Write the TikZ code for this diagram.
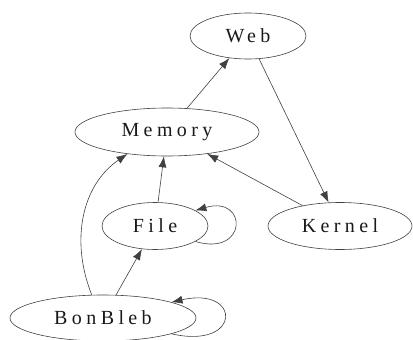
\documentclass[tikz,border=0pt]{standalone}
\usepackage{fontspec}
\usetikzlibrary{shapes.geometric, arrows.meta}
\newfontfamily\graphfont[LetterSpace=22]{Liberation Serif}
\tikzset{
  depgraph/.style={
	x=1pt, y=-1pt, % one unit per pixel, y downwards
	every node/.style={ellipse, draw=black!75, line width=0.6pt, inner sep=0pt,
	  font=\graphfont\fontsize{20}{24}\selectfont, text=black!90},
  },
  dep/.style={draw=black!75, line width=0.6pt, -{Latex[length=11pt, width=8pt]}},
}
\begin{document}
\begin{tikzpicture}[depgraph]
\useasboundingbox (0,0) rectangle (413,340);
\node[minimum width=116pt, minimum height=46pt] (web) at (248,36) {Web};
\node[minimum width=184pt, minimum height=48pt] (memory) at (167,132) {Memory};
\node[minimum width=106pt, minimum height=47pt] (file) at (155,226) {File};
\node[minimum width=144pt, minimum height=47pt] (kernel) at (340,226) {Kernel};
\node[minimum width=186pt, minimum height=46pt] (bonbleb) at (103,318) {BonBleb};

\draw[dep] (memory) -- (web);
\draw[dep] (web) -- (kernel);
\draw[dep] (kernel) -- (memory);
\draw[dep] (file) -- (memory);
\draw[dep] (bonbleb) -- (file);
\draw[dep] (bonbleb.116) .. controls (70,240) and (82,185) .. (memory.-151);
\draw[dep] (file.-21) .. controls (248,257) and (248,195) .. (file.21);
\draw[dep] (bonbleb.-13) .. controls (242,350) and (242,286) .. (bonbleb.13);
\end{tikzpicture}
\end{document}
